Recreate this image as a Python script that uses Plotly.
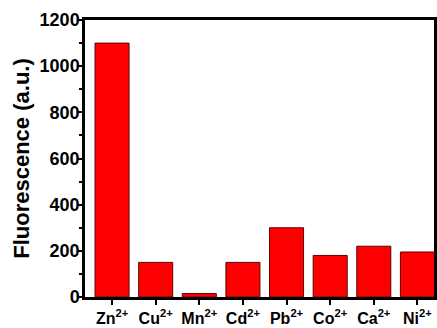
import plotly.graph_objects as go

ions = ["Zn<sup>2+</sup>", "Cu<sup>2+</sup>", "Mn<sup>2+</sup>", "Cd<sup>2+</sup>",
        "Pb<sup>2+</sup>", "Co<sup>2+</sup>", "Ca<sup>2+</sup>", "Ni<sup>2+</sup>"]
fluorescence = [1100, 150, 15, 150, 300, 180, 220, 195]
y_ticks = [0, 200, 400, 600, 800, 1000, 1200]

fig = go.Figure(go.Bar(
    x=ions, y=fluorescence,
    marker=dict(color="#FF0000", line=dict(color="#600000", width=1)),
    width=0.78,
))

fam = "Liberation Sans, Arial, sans-serif"
xfont = dict(family=fam, size=16, color="black", weight="bold")
yfont = dict(family=fam, size=18, color="black", weight="bold")

fig.update_layout(
    width=437, height=328,
    margin=dict(l=85, r=3, t=20, b=31, autoexpand=False),
    plot_bgcolor="white", paper_bgcolor="white",
    showlegend=False,
    font=xfont,
)
fig.update_xaxes(
    range=[-0.62, 7.38], automargin=False,
    showline=True, linecolor="black", linewidth=2.5, mirror=True,
    ticks="outside", ticklen=5, tickwidth=2, tickcolor="black",
    tickfont=xfont, showgrid=False,
)
fig.update_yaxes(
    range=[0, 1200], automargin=False,
    tickvals=y_ticks,
    showline=True, linecolor="black", linewidth=2.5, mirror=True,
    ticks="outside", ticklen=5, tickwidth=2, tickcolor="black",
    ticklabelstandoff=-6,
    minor=dict(dtick=100, ticks="outside", ticklen=3, tickwidth=1.5, tickcolor="black", showgrid=False),
    tickfont=yfont, showgrid=False, zeroline=False,
    title=dict(text="Fluorescence (a.u.)", font=dict(family=fam, size=22, color="black", weight="bold"), standoff=4),
)

fig.write_html(
    "out.html",
    config={"displayModeBar": False},
    post_script="document.body.style.margin='0';document.body.style.overflow='hidden';",
)
